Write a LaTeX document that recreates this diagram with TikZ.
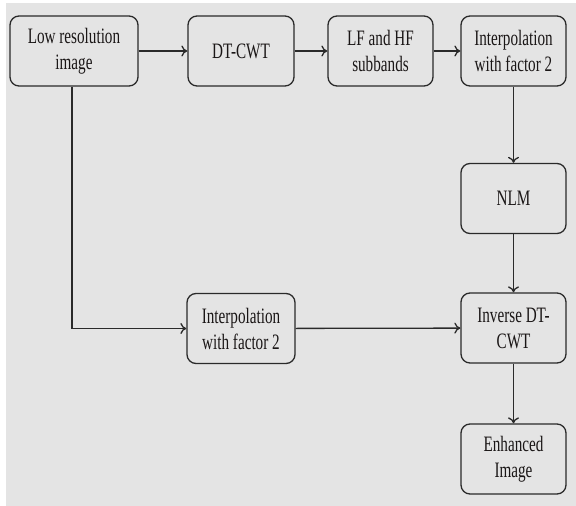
\documentclass[tikz,border=0pt]{standalone}
\usepackage{fontspec}
\setmainfont{Liberation Serif}[FakeStretch=0.69]
\usetikzlibrary{arrows.meta}
\definecolor{bgc}{HTML}{E4E4E4}
\definecolor{linec}{HTML}{2A2A2A}
\definecolor{txtc}{HTML}{1A1616}
\tikzset{
  blk/.style={draw=linec, line width=1.3pt, rounded corners=9pt, fill=bgc,
    minimum width=105pt, minimum height=70pt, align=center, inner sep=2pt,
    text=txtc, font=\fontsize{22pt}{26pt}\selectfont},
  conn/.style={draw=linec, line width=1.3pt, -{To[length=6pt,width=11pt]}}
}
\begin{document}
\begin{tikzpicture}[x=1pt,y=-1pt]
\useasboundingbox (0,0) rectangle (576,506);
\fill[bgc] (6,3) rectangle (576,506);
\node[blk, minimum width=128pt] (low) at (74,51) {Low resolution\\image};
\node[blk, minimum width=106pt] (dt) at (241,51) {DT-CWT};
\node[blk] (lf) at (380.5,51) {LF and HF\\subbands};
\node[blk] (ip1) at (513.5,51) {Interpolation\\with factor 2};
\node[blk] (nlm) at (513.5,198.5) {NLM};
\node[blk] (inv) at (513.5,328) {Inverse DT-\\CWT};
\node[blk] (enh) at (513.5,459) {Enhanced\\Image};
\node[blk, minimum width=108pt] (ip2) at (241,328.5) {Interpolation\\with factor 2};
\draw[conn] (low) -- (dt);
\draw[conn] (dt) -- (lf);
\draw[conn] (lf) -- (ip1);
\draw[conn] (ip1) -- (nlm);
\draw[conn] (nlm) -- (inv);
\draw[conn] (inv) -- (enh);
\draw[conn] ([xshift=-2pt]low.south) |- (ip2.west);
\draw[conn] (ip2) -- (inv);
\end{tikzpicture}
\end{document}
